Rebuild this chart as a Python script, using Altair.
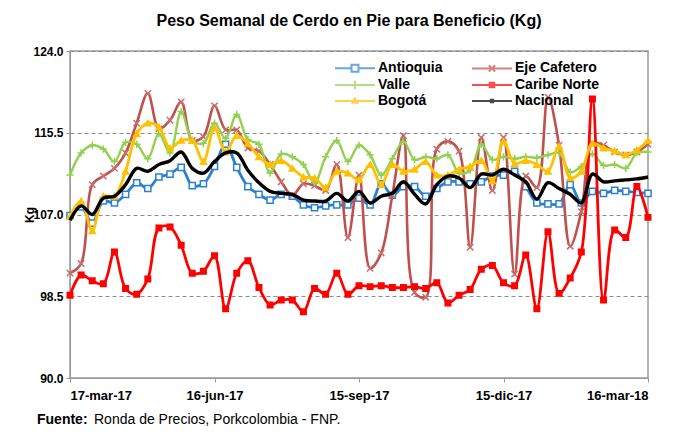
import json
import altair as alt
import pandas as pd

weeks = list(range(53))
x_labels = ["17-mar-17", "16-jun-17", "15-sep-17", "15-dic-17", "16-mar-18"]
x_label_weeks = [0, 13, 26, 39, 52]
y_ticks = [90.0, 98.5, 107.0, 115.5, 124.0]
series_names = ["Antioquia", "Eje Cafetero", "Valle", "Caribe Norte", "Bogotá", "Nacional"]

antioquia = [106.9, 107.8, 106.1, 108.4, 108.2, 109.1, 110.3, 109.7, 110.9, 111.2,
             111.9, 110.0, 110.2, 112.0, 114.3, 111.9, 109.9, 109.1, 108.5, 109.1,
             108.9, 108.0, 107.7, 107.9, 108.0, 108.0, 108.7, 108.0, 110.2, 109.0,
             109.9, 109.9, 108.9, 109.7, 110.4, 110.4, 110.2, 110.4, 111.0, 111.1,
             111.5, 109.9, 108.2, 108.1, 108.1, 110.1, 108.2, 109.4, 109.2, 109.5,
             109.4, 109.3, 109.2]
eje_cafetero = [100.9, 101.9, 110.1, 111.0, 111.8, 113.4, 116.5, 119.6, 115.9, 116.8,
                118.7, 114.7, 115.1, 118.3, 115.8, 115.8, 113.9, 113.6, 112.2, 110.4,
                109.0, 110.2, 110.0, 109.5, 112.2, 104.6, 111.1, 101.4, 103.0, 109.0,
                115.2, 98.9, 98.4, 113.8, 114.6, 113.6, 103.6, 115.0, 109.5, 115.0,
                100.8, 111.0, 109.8, 119.2, 114.2, 103.7, 107.3, 114.4, 114.2, 113.5,
                113.2, 113.5, 114.3]
valle = [111.1, 113.4, 114.2, 113.8, 112.5, 114.5, 114.3, 112.8, 115.4, 113.4,
         117.7, 114.7, 114.4, 116.5, 114.9, 117.4, 114.8, 114.3, 111.3, 113.3,
         113.0, 112.2, 110.3, 113.0, 114.7, 112.5, 114.2, 113.2, 111.1, 112.8,
         114.6, 112.7, 113.0, 112.8, 113.2, 111.3, 111.6, 114.3, 112.7, 113.0,
         112.8, 113.0, 112.9, 113.2, 113.4, 111.4, 112.0, 113.3, 112.1, 112.2,
         111.8, 113.4, 113.5]
caribe_norte = [98.6, 100.7, 100.1, 99.8, 103.1, 99.3, 98.7, 100.3, 105.6, 105.7,
                103.8, 100.9, 101.1, 102.7, 97.2, 100.9, 102.2, 99.4, 97.6, 98.1,
                98.1, 96.9, 99.3, 98.7, 100.9, 98.7, 99.6, 99.5, 99.6, 99.4,
                99.4, 99.5, 99.3, 99.9, 97.8, 98.6, 99.2, 101.3, 101.7, 99.9,
                99.6, 102.8, 97.2, 105.2, 98.8, 100.4, 103.1, 119.0, 98.1, 105.4,
                104.6, 109.9, 106.7]
bogota = [106.8, 108.4, 105.3, 108.9, 108.9, 111.5, 115.4, 116.5, 116.1, 113.9,
          114.7, 114.7, 112.5, 116.0, 113.5, 115.2, 114.4, 113.0, 112.2, 112.6,
          111.8, 110.9, 110.8, 109.8, 111.5, 111.3, 110.6, 112.2, 110.1, 112.2,
          111.5, 111.7, 112.5, 111.1, 111.1, 111.7, 112.0, 112.6, 110.5, 114.6,
          112.3, 112.6, 112.2, 111.5, 114.1, 110.8, 111.5, 114.4, 113.9, 113.6,
          113.2, 113.7, 114.7]
nacional = [106.4, 107.9, 107.0, 108.7, 108.9, 110.1, 111.8, 111.5, 112.2, 112.6,
            113.5, 111.8, 111.3, 112.5, 113.4, 113.4, 111.6, 110.3, 109.4, 109.2,
            109.1, 108.5, 108.4, 108.4, 109.2, 108.4, 109.4, 108.2, 108.9, 109.2,
            110.4, 109.1, 108.1, 110.1, 111.0, 110.8, 109.8, 111.2, 111.1, 111.7,
            111.1, 110.4, 108.6, 110.3, 109.7, 109.1, 108.2, 111.2, 110.4, 110.5,
            110.6, 110.7, 110.9]

all_values = [antioquia, eje_cafetero, valle, caribe_norte, bogota, nacional]

rows = []
for name, vals in zip(series_names, all_values):
    for w, v in zip(weeks, vals):
        rows.append({"semana": w, "serie": name, "kg": v})
df = pd.DataFrame(rows)

FONT = "Liberation Sans"
line_colors = ["#2B80D3", "#C0504D", "#92D050", "#FF0000", "#FFC000", "#000000"]
line_widths = [2.8, 2.6, 2.4, 2.8, 2.8, 3.4]
mark_strokes = ["#2B80D3", "#C96E6C", "#92D050", "#FF0000", "#FFC000", "#000000"]
mark_fills = ["#FFFFFF", "#FFFFFF", "#FFFFFF", "#FF0000", "#FFC000", "#000000"]
X_PATH = "M-1,-1L1,1M-1,1L1,-1"
PLUS_PATH = "M-1,0L1,0M0,-1L0,1"
mark_shapes = ["square", X_PATH, PLUS_PATH, "square", "triangle-up", None]
mark_sizes = [38, 40, 52, 30, 38, None]

# legend glyphs: a line segment with the series marker in its middle
legend_paths = [
    "M-1,0L1.75,0M2.91,0L5.67,0M1.75,-0.58L2.91,-0.58L2.91,0.58L1.75,0.58Z",
    "M-1,0L5.67,0M1.8,-0.53L2.86,0.53M1.8,0.53L2.86,-0.53",
    "M-1,0L5.67,0M2.33,-0.67L2.33,0.67",
    "M-1,0L5.67,0M1.96,-0.37L2.7,-0.37L2.7,0.37L1.96,0.37Z",
    "M-1,0L5.67,0M2.33,-0.4L2.73,0.3L1.93,0.3Z",
    "M-1,0L5.67,0M2.13,-0.2L2.53,-0.2L2.53,0.2L2.13,0.2Z",
]

label_expr = (
    "indexof(" + json.dumps(x_label_weeks) + ", datum.value) >= 0 ? "
    + json.dumps(x_labels) + "[indexof(" + json.dumps(x_label_weeks) + ", datum.value)] : ''"
)

W, H = 578, 327

x_enc = alt.X(
    "semana:Q",
    scale=alt.Scale(domain=[0, 52], nice=False, zero=False),
    axis=alt.Axis(
        values=x_label_weeks,
        labelExpr=label_expr,
        title=None,
        grid=False,
        labelFont=FONT,
        labelFontSize=13,
        labelFontWeight="bold",
        labelColor="#000000",
        labelPadding=7,
        tickSize=4,
        tickColor="#999999",
        domainColor="#999999",
        labelOverlap=False,
    ),
)
y_enc = alt.Y(
    "kg:Q",
    scale=alt.Scale(domain=[90, 124], nice=False, zero=False),
    axis=alt.Axis(
        values=y_ticks,
        format=".1f",
        title="Kg",
        titleFont=FONT,
        titleFontSize=12,
        titleFontWeight="bold",
        titleColor="#000000",
        titleX=-34,
        titleY=H / 2,
        labelFont=FONT,
        labelFontSize=12,
        labelFontWeight="bold",
        labelColor="#000000",
        labelPadding=3,
        tickSize=4,
        tickColor="#999999",
        domainColor="#999999",
        grid=True,
        gridDash=[4, 3],
        gridColor="#8C8C8C",
        gridWidth=1,
    ),
)

series_layers = []
for k, (name, col, lw, shp, stk, fil, sz) in enumerate(
        zip(series_names, line_colors, line_widths, mark_shapes, mark_strokes, mark_fills, mark_sizes)):
    base = alt.Chart(df).transform_filter(alt.datum.serie == name)
    if k == 0:
        series_layers.append(base.mark_line(interpolate="catmull-rom", color=col, strokeWidth=lw).encode(x=x_enc, y=y_enc))
    else:
        series_layers.append(base.mark_line(interpolate="catmull-rom", color=col, strokeWidth=lw).encode(x="semana:Q", y="kg:Q"))
    if shp is not None:
        series_layers.append(
            base.mark_point(shape=shp, size=sz, stroke=stk, fill=fil, strokeWidth=1.5, opacity=1, fillOpacity=1)
            .encode(x="semana:Q", y="kg:Q")
        )

legend = alt.Legend(
    title=None,
    orient="none",
    direction="horizontal",
    legendX=264,
    legendY=10,
    columns=2,
    columnPadding=25,
    rowPadding=0,
    symbolSize=144,
    symbolStrokeWidth=2,
    labelFont=FONT,
    labelFontSize=14,
    labelFontWeight="bold",
    labelColor="#000000",
    labelOffset=30,
)

legend_layer = alt.Chart(df).transform_filter("datum.semana < 0").mark_point(
    filled=False, strokeWidth=2
).encode(
    x="semana:Q",
    y="kg:Q",
    shape=alt.Shape("serie:N", scale=alt.Scale(domain=series_names, range=legend_paths), legend=legend),
    stroke=alt.Stroke("serie:N", scale=alt.Scale(domain=series_names, range=line_colors), legend=legend),
    fill=alt.Fill("serie:N", scale=alt.Scale(domain=series_names, range=mark_fills), legend=legend),
)

src_bold = alt.Chart(pd.DataFrame({"t": ["Fuente:"]})).mark_text(
    align="left", baseline="middle", font=FONT, fontSize=14, fontWeight="bold", color="#000000"
).encode(x=alt.value(-33), y=alt.value(H + 42), text="t:N")
src_rest = alt.Chart(pd.DataFrame({"t": ["Ronda de Precios, Porkcolombia  - FNP."]})).mark_text(
    align="left", baseline="middle", font=FONT, fontSize=14, color="#000000"
).encode(x=alt.value(24), y=alt.value(H + 42), text="t:N")

chart = alt.layer(*series_layers, legend_layer, src_bold, src_rest).properties(
    width=W,
    height=H,
    title=alt.Title(
        "Peso Semanal de Cerdo en Pie para Beneficio (Kg)",
        font=FONT, fontSize=16, fontWeight="bold", color="#000000",
        anchor="middle", offset=16, dx=-10,
    ),
    padding={"left": 15, "top": 5, "right": 10, "bottom": 10},
    background="#FFFFFF",
).configure_view(stroke="#999999", strokeWidth=1.5)

chart.save("out.html", embed_options={"renderer": "svg", "actions": False})
